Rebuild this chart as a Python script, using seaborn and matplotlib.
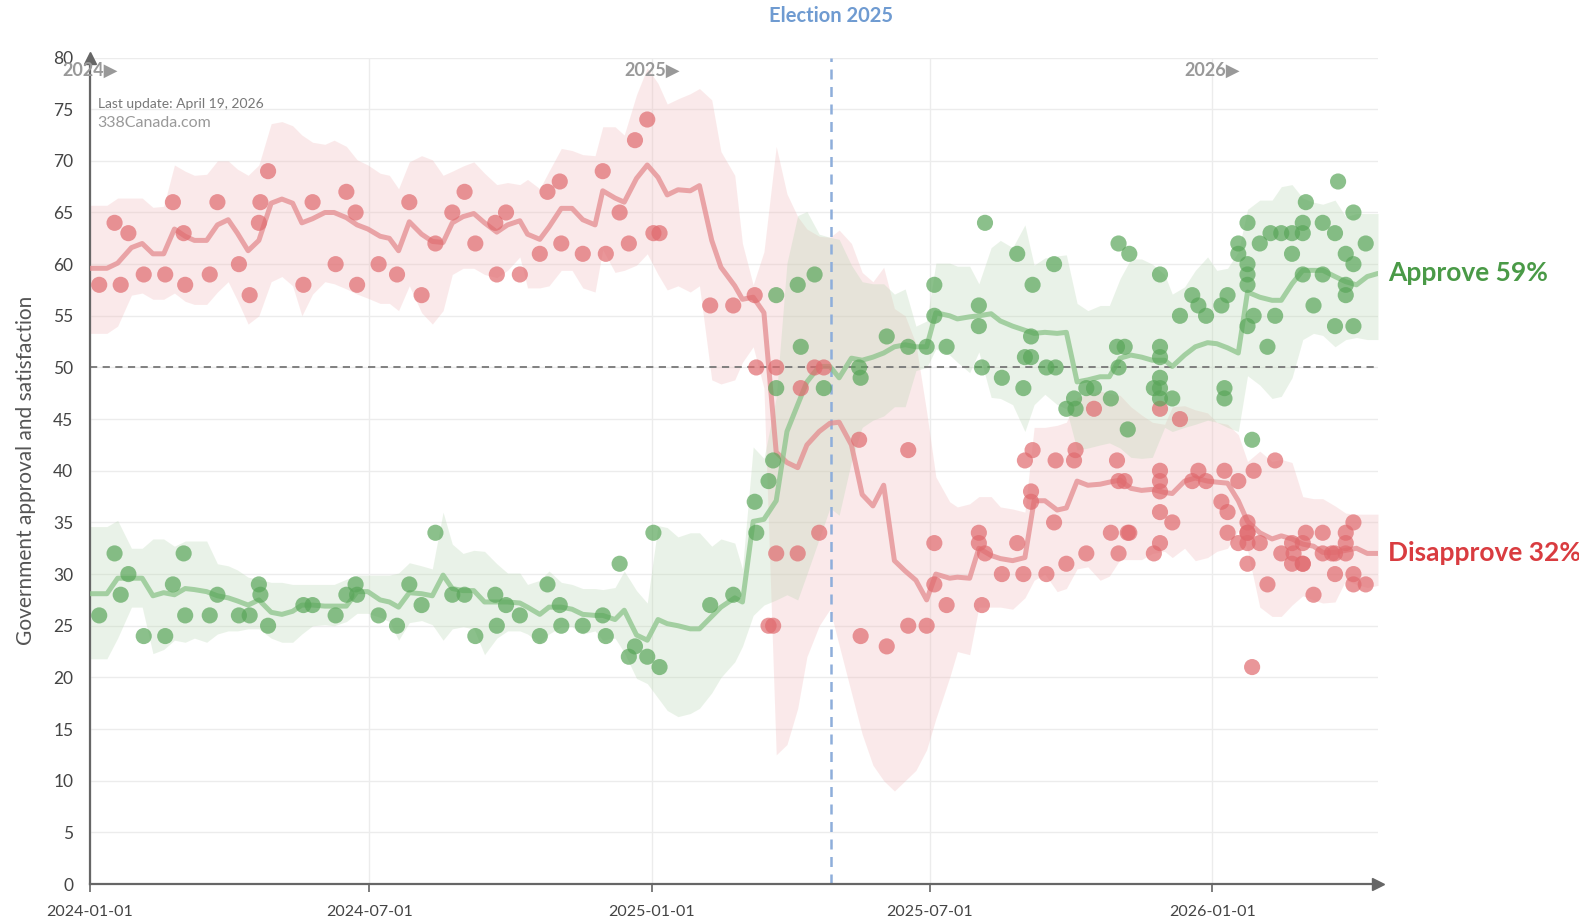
import pandas as pd
import seaborn as sns
import matplotlib.pyplot as plt

# ---- poll results (approve / disapprove) ----
approve_dates = [
    "2024-01-07", "2024-01-17", "2024-01-21", "2024-01-26", "2024-02-05", "2024-02-19", "2024-02-24",
    "2024-03-02", "2024-03-03", "2024-03-19", "2024-03-24", "2024-04-07", "2024-04-14", "2024-04-20",
    "2024-04-21", "2024-04-26", "2024-05-19", "2024-05-25", "2024-06-09", "2024-06-16", "2024-06-22",
    "2024-06-23", "2024-07-07", "2024-07-19", "2024-07-27", "2024-08-04", "2024-08-13", "2024-08-24",
    "2024-09-01", "2024-09-08", "2024-09-21", "2024-09-22", "2024-09-28", "2024-10-07", "2024-10-20",
    "2024-10-25", "2024-11-02", "2024-11-03", "2024-11-17", "2024-11-30", "2024-12-02", "2024-12-11",
    "2024-12-17", "2024-12-21", "2024-12-29", "2025-01-02", "2025-01-06", "2025-02-08", "2025-02-23",
    "2025-03-09", "2025-03-10", "2025-03-18", "2025-03-21", "2025-03-23", "2025-03-23", "2025-04-06",
    "2025-04-08", "2025-04-17", "2025-04-23", "2025-05-16", "2025-05-17", "2025-06-03", "2025-06-17",
    "2025-06-29", "2025-07-04", "2025-07-04", "2025-07-12", "2025-08-02", "2025-08-02", "2025-08-04",
    "2025-08-06", "2025-08-17", "2025-08-27", "2025-08-31", "2025-09-01", "2025-09-05", "2025-09-05",
    "2025-09-06", "2025-09-15", "2025-09-20", "2025-09-21", "2025-09-28", "2025-10-03", "2025-10-04",
    "2025-10-11", "2025-10-16", "2025-10-27", "2025-10-31", "2025-11-01", "2025-11-01", "2025-11-05",
    "2025-11-07", "2025-11-08", "2025-11-24", "2025-11-28", "2025-11-28", "2025-11-28", "2025-11-28",
    "2025-11-28", "2025-11-28", "2025-12-06", "2025-12-11", "2025-12-19", "2025-12-23", "2025-12-28",
    "2026-01-07", "2026-01-09", "2026-01-09", "2026-01-11", "2026-01-18", "2026-01-18", "2026-01-24",
    "2026-01-24", "2026-01-24", "2026-01-24", "2026-01-24", "2026-01-27", "2026-01-28", "2026-02-01",
    "2026-02-06", "2026-02-08", "2026-02-11", "2026-02-15", "2026-02-22", "2026-02-22", "2026-03-01",
    "2026-03-01", "2026-03-01", "2026-03-03", "2026-03-08", "2026-03-14", "2026-03-14", "2026-03-22",
    "2026-03-22", "2026-03-24", "2026-03-29", "2026-03-29", "2026-03-29", "2026-04-03", "2026-04-03",
    "2026-04-03", "2026-04-11",
]
approve_values = [
    26, 32, 28, 30, 24, 24, 29, 32, 26, 26, 28, 26, 26, 29, 28, 25, 27, 27, 26, 28, 29,
    28, 26, 25, 29, 27, 34, 28, 28, 24, 28, 25, 27, 26, 24, 29, 27, 25, 25, 26, 24, 31,
    22, 23, 22, 34, 21, 27, 28, 37, 34, 39, 41, 48, 57, 58, 52, 59, 48, 50, 49, 53, 52,
    52, 55, 58, 52, 54, 56, 50, 64, 49, 61, 48, 51, 53, 51, 58, 50, 60, 50, 46, 47, 46,
    48, 48, 47, 52, 62, 50, 52, 44, 61, 48, 59, 52, 51, 49, 48, 47, 47, 55, 57, 56, 55,
    56, 48, 47, 57, 62, 61, 64, 60, 59, 58, 54, 43, 55, 62, 52, 63, 55, 63, 61, 63, 63,
    64, 59, 66, 56, 64, 59, 63, 54, 68, 61, 58, 57, 65, 60, 54, 62,
]

disapprove_dates = [
    "2024-01-07", "2024-01-17", "2024-01-21", "2024-01-26", "2024-02-05", "2024-02-19", "2024-02-24",
    "2024-03-02", "2024-03-03", "2024-03-19", "2024-03-24", "2024-04-07", "2024-04-14", "2024-04-20",
    "2024-04-21", "2024-04-26", "2024-05-19", "2024-05-25", "2024-06-09", "2024-06-16", "2024-06-22",
    "2024-06-23", "2024-07-07", "2024-07-19", "2024-07-27", "2024-08-04", "2024-08-13", "2024-08-24",
    "2024-09-01", "2024-09-08", "2024-09-21", "2024-09-22", "2024-09-28", "2024-10-07", "2024-10-20",
    "2024-10-25", "2024-11-02", "2024-11-03", "2024-11-17", "2024-11-30", "2024-12-02", "2024-12-11",
    "2024-12-17", "2024-12-21", "2024-12-29", "2025-01-02", "2025-01-06", "2025-02-08", "2025-02-23",
    "2025-03-09", "2025-03-10", "2025-03-18", "2025-03-21", "2025-03-23", "2025-03-23", "2025-04-06",
    "2025-04-08", "2025-04-17", "2025-04-20", "2025-04-23", "2025-05-16", "2025-05-17", "2025-06-03",
    "2025-06-17", "2025-06-17", "2025-06-29", "2025-07-04", "2025-07-04", "2025-07-12", "2025-08-02",
    "2025-08-02", "2025-08-04", "2025-08-06", "2025-08-17", "2025-08-27", "2025-08-31", "2025-09-01",
    "2025-09-05", "2025-09-05", "2025-09-06", "2025-09-15", "2025-09-20", "2025-09-21", "2025-09-28",
    "2025-10-03", "2025-10-04", "2025-10-11", "2025-10-16", "2025-10-27", "2025-10-31", "2025-11-01",
    "2025-11-01", "2025-11-05", "2025-11-07", "2025-11-08", "2025-11-24", "2025-11-28", "2025-11-28",
    "2025-11-28", "2025-11-28", "2025-11-28", "2025-11-28", "2025-12-06", "2025-12-11", "2025-12-19",
    "2025-12-23", "2025-12-28", "2026-01-07", "2026-01-09", "2026-01-11", "2026-01-11", "2026-01-18",
    "2026-01-18", "2026-01-24", "2026-01-24", "2026-01-24", "2026-01-24", "2026-01-24", "2026-01-27",
    "2026-01-28", "2026-02-01", "2026-02-06", "2026-02-11", "2026-02-15", "2026-02-23", "2026-02-22",
    "2026-02-22", "2026-03-01", "2026-03-01", "2026-03-01", "2026-03-03", "2026-03-08", "2026-03-14",
    "2026-03-14", "2026-03-20", "2026-03-22", "2026-03-22", "2026-03-29", "2026-03-29", "2026-03-29",
    "2026-04-03", "2026-04-03", "2026-04-03", "2026-04-11",
]
disapprove_values = [
    58, 64, 58, 63, 59, 59, 66, 63, 58, 59, 66, 60, 57, 64, 66, 69, 58, 66, 60, 67, 65,
    58, 60, 59, 66, 57, 62, 65, 67, 62, 64, 59, 65, 59, 61, 67, 68, 62, 61, 69, 61, 65,
    62, 72, 74, 63, 63, 56, 56, 57, 50, 25, 25, 32, 50, 32, 48, 50, 34, 50, 43, 24, 23,
    42, 25, 25, 29, 33, 27, 34, 33, 27, 32, 30, 33, 30, 41, 37, 38, 42, 30, 35, 41, 31,
    41, 42, 32, 46, 34, 41, 32, 39, 39, 34, 34, 32, 46, 40, 39, 38, 36, 33, 35, 45, 39,
    40, 39, 37, 40, 36, 34, 39, 33, 35, 34, 34, 33, 31, 21, 40, 33, 29, 41, 32, 32, 31,
    33, 33, 31, 31, 34, 28, 32, 34, 32, 30, 32, 34, 33, 32, 35, 30, 29, 29,
]

# ---- weekly trend and spread ----
trend_dates = [
    "2024-01-01", "2024-01-12", "2024-01-19", "2024-01-28", "2024-02-04", "2024-02-11", "2024-02-18",
    "2024-02-25", "2024-03-03", "2024-03-09", "2024-03-17", "2024-03-24", "2024-03-31", "2024-04-06",
    "2024-04-13", "2024-04-20", "2024-04-28", "2024-05-05", "2024-05-12", "2024-05-18", "2024-05-25",
    "2024-06-02", "2024-06-08", "2024-06-16", "2024-06-23", "2024-06-30", "2024-07-08", "2024-07-14",
    "2024-07-20", "2024-07-27", "2024-08-04", "2024-08-11", "2024-08-18", "2024-08-24", "2024-08-31",
    "2024-09-07", "2024-09-14", "2024-09-22", "2024-09-29", "2024-10-07", "2024-10-12", "2024-10-20",
    "2024-10-26", "2024-11-03", "2024-11-10", "2024-11-17", "2024-11-25", "2024-11-30", "2024-12-08",
    "2024-12-14", "2024-12-22", "2024-12-29", "2025-01-05", "2025-01-11", "2025-01-18", "2025-01-26",
    "2025-02-01", "2025-02-09", "2025-02-15", "2025-02-24", "2025-03-01", "2025-03-08", "2025-03-15",
    "2025-03-23", "2025-03-30", "2025-04-06", "2025-04-12", "2025-04-20", "2025-04-27", "2025-05-03",
    "2025-05-11", "2025-05-18", "2025-05-25", "2025-06-01", "2025-06-08", "2025-06-15", "2025-06-22",
    "2025-06-29", "2025-07-05", "2025-07-14", "2025-07-19", "2025-07-27", "2025-08-02", "2025-08-10",
    "2025-08-16", "2025-08-24", "2025-09-01", "2025-09-07", "2025-09-14", "2025-09-22", "2025-09-28",
    "2025-10-05", "2025-10-12", "2025-10-20", "2025-10-26", "2025-11-02", "2025-11-09", "2025-11-16",
    "2025-11-23", "2025-12-01", "2025-12-06", "2025-12-14", "2025-12-21", "2025-12-29", "2026-01-04",
    "2026-01-11", "2026-01-18", "2026-01-24", "2026-02-01", "2026-02-09", "2026-02-15", "2026-02-22",
    "2026-03-01", "2026-03-08", "2026-03-14", "2026-03-22", "2026-03-29", "2026-04-05", "2026-04-12",
    "2026-04-19",
]
disapprove_trend = [
    59.6, 59.6, 60.1, 61.6, 62.0, 61.0, 61.0, 63.4, 62.7, 62.3, 62.3, 63.8, 64.3, 63.0, 61.3, 62.3,
    65.9, 66.3, 65.9, 64.0, 64.4, 65.0, 65.0, 64.5, 63.8, 63.4, 62.7, 62.5, 61.3, 64.1, 62.9, 62.2,
    62.1, 64.0, 64.6, 64.9, 64.0, 63.1, 63.8, 64.2, 62.9, 62.4, 63.6, 65.4, 65.4, 64.3, 63.8, 67.1,
    66.4, 66.0, 68.3, 69.6, 68.4, 66.7, 67.2, 67.1, 67.6, 62.3, 59.7, 57.9, 56.6, 56.8, 55.3, 41.8,
    40.8, 40.3, 42.5, 43.8, 44.6, 44.7, 42.5, 37.7, 36.6, 38.6, 31.3, 30.3, 29.4, 27.5, 30.0, 29.6,
    29.7, 29.6, 32.5, 31.8, 31.5, 31.3, 31.6, 37.1, 37.1, 36.2, 36.4, 39.0, 38.6, 38.7, 38.9, 39.1,
    38.3, 38.1, 38.2, 37.9, 37.8, 39.0, 39.3, 39.0, 38.9, 38.8, 37.1, 35.1, 34.0, 33.4, 33.7, 33.4,
    32.9, 32.7, 32.1, 32.1, 32.3, 32.5, 32.0, 32.0,
]
disapprove_high = [
    65.7, 65.7, 66.4, 66.4, 66.4, 65.5, 65.6, 69.6, 69.0, 68.6, 68.7, 70.0, 70.0, 69.2, 68.6, 69.6,
    73.6, 73.8, 73.4, 72.5, 71.8, 71.6, 72.0, 71.4, 70.1, 69.6, 68.8, 68.6, 67.3, 69.9, 70.5, 70.1,
    68.6, 69.0, 69.5, 69.9, 68.8, 67.7, 67.9, 67.7, 68.2, 67.3, 69.0, 71.2, 71.0, 70.6, 70.5, 73.3,
    73.3, 72.5, 76.4, 79.0, 77.5, 75.5, 76.0, 76.5, 77.0, 75.9, 70.9, 68.6, 62.0, 58.0, 61.2, 71.4,
    66.8, 64.6, 63.4, 62.7, 62.6, 63.3, 62.0, 59.2, 58.3, 59.7, 55.7, 55.0, 52.3, 45.7, 39.4, 37.0,
    36.5, 36.8, 37.5, 37.5, 36.5, 36.3, 36.0, 44.2, 44.2, 44.4, 44.7, 47.1, 47.4, 47.7, 47.5, 47.3,
    46.2, 45.4, 44.7, 44.5, 46.2, 46.3, 45.9, 45.6, 44.7, 44.5, 43.5, 40.9, 41.9, 40.9, 41.1, 40.8,
    37.5, 37.3, 37.3, 36.6, 35.9, 35.8, 35.8, 35.8,
]
disapprove_low = [
    53.3, 53.3, 54.0, 57.0, 57.2, 56.6, 56.6, 57.2, 56.4, 56.1, 56.1, 57.3, 58.3, 56.5, 54.2, 55.0,
    58.3, 58.8, 57.9, 55.0, 57.1, 58.3, 58.1, 57.6, 57.1, 56.7, 56.2, 56.2, 55.5, 57.9, 55.3, 54.2,
    55.5, 59.0, 59.6, 59.6, 59.0, 58.7, 59.4, 60.7, 57.7, 57.7, 57.9, 59.4, 59.4, 57.7, 57.3, 61.4,
    59.2, 59.4, 59.9, 61.0, 59.0, 57.5, 57.9, 57.3, 57.9, 48.8, 48.4, 48.8, 50.5, 52.0, 48.0, 12.5,
    13.5, 17.0, 22.0, 25.0, 26.6, 23.1, 18.5, 14.5, 11.5, 10.0, 9.0, 10.0, 11.0, 13.0, 16.0, 20.0,
    22.5, 22.2, 26.8, 26.8, 26.8, 26.6, 27.7, 29.4, 30.0, 28.3, 28.6, 30.5, 30.7, 29.4, 29.8, 31.4,
    31.4, 31.4, 32.0, 32.2, 31.6, 32.5, 31.3, 31.6, 32.2, 32.5, 34.2, 32.3, 26.8, 25.9, 25.9, 27.0,
    27.9, 27.5, 27.2, 27.3, 29.4, 29.0, 28.7, 28.9,
]
approve_trend = [
    28.1, 28.1, 29.6, 29.6, 29.6, 27.9, 28.2, 28.0, 28.6, 28.5, 28.3, 27.9, 27.7, 27.4, 27.0, 27.5,
    26.3, 26.1, 26.4, 27.0, 27.0, 26.9, 26.9, 26.9, 28.3, 28.3, 27.5, 27.3, 26.8, 28.2, 28.1, 27.9,
    29.9, 28.6, 28.4, 28.4, 27.3, 27.3, 27.3, 27.2, 26.8, 26.1, 26.8, 26.8, 26.6, 26.1, 26.0, 26.0,
    25.6, 26.5, 24.1, 23.6, 25.6, 25.2, 25.0, 24.7, 24.7, 25.9, 26.8, 27.7, 27.3, 35.1, 35.3, 37.1,
    43.8, 46.4, 48.6, 50.1, 50.1, 49.0, 50.9, 50.7, 51.0, 51.4, 52.0, 52.2, 52.0, 52.0, 55.3, 55.0,
    54.7, 54.9, 55.0, 55.2, 54.5, 54.0, 53.6, 53.3, 53.4, 53.3, 53.4, 48.6, 48.8, 49.1, 49.1, 50.9,
    51.2, 51.0, 50.7, 50.7, 50.1, 51.2, 52.0, 52.4, 52.3, 51.9, 51.4, 57.3, 56.8, 56.5, 56.5, 58.1,
    59.4, 59.4, 59.4, 58.8, 58.3, 58.0, 58.8, 59.1,
]
approve_high = [
    34.6, 34.6, 35.2, 32.5, 32.5, 33.4, 33.4, 32.7, 33.2, 33.2, 33.2, 31.0, 30.8, 30.4, 29.7, 29.5,
    29.2, 29.2, 29.0, 29.0, 29.0, 29.0, 29.0, 29.5, 29.9, 29.9, 29.9, 29.9, 30.1, 31.1, 30.8, 30.5,
    36.0, 32.9, 32.0, 32.3, 32.2, 31.0, 30.1, 30.1, 29.0, 29.4, 30.3, 29.2, 29.0, 28.6, 28.6, 28.5,
    28.7, 30.3, 28.4, 27.2, 34.7, 34.5, 33.6, 34.0, 34.0, 32.7, 33.4, 33.0, 30.5, 42.3, 41.2, 47.1,
    60.1, 64.7, 65.1, 62.9, 62.6, 62.4, 59.9, 58.3, 58.1, 58.1, 57.1, 57.6, 54.0, 54.5, 60.1, 60.1,
    59.8, 59.8, 58.1, 61.6, 62.3, 61.6, 63.8, 59.9, 60.6, 60.8, 60.9, 56.2, 55.5, 56.0, 56.0, 58.6,
    60.5, 60.5, 60.0, 59.0, 57.1, 57.8, 59.4, 60.7, 59.4, 59.6, 61.2, 65.3, 66.2, 66.2, 67.5, 67.7,
    66.4, 66.0, 65.8, 66.2, 64.6, 64.9, 64.9, 64.9,
]
approve_low = [
    21.8, 21.8, 23.8, 26.8, 26.8, 22.3, 22.7, 23.6, 23.4, 23.8, 23.4, 24.2, 24.5, 24.5, 24.7, 24.7,
    23.8, 23.4, 23.4, 24.2, 25.0, 25.1, 25.0, 25.4, 26.2, 26.2, 25.8, 25.4, 23.6, 25.3, 25.5, 25.1,
    23.6, 24.7, 24.9, 24.7, 22.2, 23.8, 24.5, 24.5, 24.2, 23.3, 24.2, 24.9, 24.9, 24.2, 24.5, 23.6,
    23.8, 22.4, 19.9, 19.4, 18.0, 16.8, 16.2, 16.5, 17.0, 18.5, 20.0, 21.5, 23.0, 26.0, 27.0, 27.5,
    28.0, 27.5, 30.0, 33.4, 36.4, 35.7, 40.9, 44.2, 44.9, 45.3, 46.2, 46.2, 49.7, 50.0, 51.8, 51.2,
    50.5, 49.5, 51.5, 47.1, 47.0, 46.4, 43.8, 46.4, 47.4, 46.4, 46.0, 42.0, 42.2, 42.5, 42.7, 42.2,
    41.3, 41.2, 41.3, 44.2, 43.8, 44.2, 44.5, 44.9, 44.7, 44.2, 43.8, 49.2, 48.3, 47.0, 47.2, 49.0,
    52.7, 53.3, 53.1, 52.0, 52.7, 52.9, 52.7, 52.7,
]

year_labels = ["2024", "2025", "2026"]
x_ticks = ["2024-01-01", "2024-07-01", "2025-01-01", "2025-07-01", "2026-01-01"]
election_date = "2025-04-28"

GREEN = "#5aa65a"
RED = "#e06a6e"

approve = pd.DataFrame({"date": pd.to_datetime(approve_dates), "value": approve_values})
disapprove = pd.DataFrame({"date": pd.to_datetime(disapprove_dates), "value": disapprove_values})
trend = pd.DataFrame({
    "date": pd.to_datetime(trend_dates),
    "approve": approve_trend, "approve_hi": approve_high, "approve_lo": approve_low,
    "disapprove": disapprove_trend, "disapprove_hi": disapprove_high, "disapprove_lo": disapprove_low,
})

sns.set_theme(style="white")
plt.rcParams["font.family"] = ["Lato", "DejaVu Sans"]

fig = plt.figure(figsize=(15.79, 9.22), dpi=100)
ax = fig.add_axes([0.057, 0.0412, 0.8157, 0.8964])

# spread bands
ax.fill_between(trend["date"], trend["disapprove_lo"], trend["disapprove_hi"],
                color="#f0b3b5", alpha=0.28, lw=0, zorder=1)
ax.fill_between(trend["date"], trend["approve_lo"], trend["approve_hi"],
                color="#b9d7b3", alpha=0.30, lw=0, zorder=1)

# trend lines
sns.lineplot(data=trend, x="date", y="disapprove", ax=ax, color="#e48c8f", lw=3.6, alpha=0.75, zorder=3)
sns.lineplot(data=trend, x="date", y="approve", ax=ax, color="#8cc48a", lw=3.6, alpha=0.75, zorder=3)

# polls
sns.scatterplot(data=disapprove, x="date", y="value", ax=ax, color=RED, s=135, alpha=0.7,
                edgecolor="none", zorder=4)
sns.scatterplot(data=approve, x="date", y="value", ax=ax, color=GREEN, s=135, alpha=0.7,
                edgecolor="none", zorder=4)

ax.axhline(50, color="#777777", ls=(0, (4, 3)), lw=1.3, zorder=2)
elec = pd.Timestamp(election_date)
ax.axvline(elec, color="#8eaedb", ls=(0, (4, 3)), lw=1.8, zorder=2)
ax.text(elec, 1.05, "Election 2025", transform=ax.get_xaxis_transform(), ha="center", va="center",
        fontsize=14.5, fontweight="bold", color="#6f9bd1")

ax.set_xlim(pd.Timestamp("2024-01-01"), pd.Timestamp("2026-04-19"))
ax.set_ylim(0, 80)
ax.set_yticks(range(0, 81, 5))
ax.set_xticks(pd.to_datetime(x_ticks))
ax.set_xticklabels(x_ticks)
ax.grid(True, color="#ececec", lw=1)
ax.set_axisbelow(True)
ax.tick_params(axis="x", length=6, width=1.2, color="#666666", direction="out", bottom=True,
               labelsize=11.5, labelcolor="#444444", pad=9)
ax.tick_params(axis="y", length=0, labelsize=12.5, labelcolor="#444444", pad=12)
for side in ["top", "right"]:
    ax.spines[side].set_visible(False)
for side in ["left", "bottom"]:
    ax.spines[side].set_color("#666666")
    ax.spines[side].set_linewidth(1.6)
ax.plot(1, 0, ">", color="#666666", ms=9, transform=ax.transAxes, clip_on=False)
ax.plot(0, 1, "^", color="#666666", ms=9, transform=ax.transAxes, clip_on=False)

ax.set_xlabel("")
ax.set_ylabel("Government approval and satisfaction", fontsize=15, color="#555555", labelpad=12)

# year markers
for yr in year_labels:
    ax.text(pd.Timestamp(f"{yr}-01-01"), 78.8, f"{yr}\u25B6", ha="center", va="center",
            fontsize=13, fontweight="bold", color="#999999", zorder=5)

ax.text(0.006, 0.944, "Last update: April 19, 2026", transform=ax.transAxes, fontsize=10,
        color="#777777", va="center")
ax.text(0.006, 0.921, "338Canada.com", transform=ax.transAxes, fontsize=11.5,
        color="#999999", va="center")

ax.text(1.008, approve_trend[-1], f"Approve {round(approve_trend[-1])}%", transform=ax.get_yaxis_transform(),
        fontsize=19, fontweight="bold", color="#4a9a47", va="center", ha="left")
ax.text(1.008, disapprove_trend[-1], f"Disapprove {round(disapprove_trend[-1])}%",
        transform=ax.get_yaxis_transform(), fontsize=19, fontweight="bold", color="#d93c40",
        va="center", ha="left")

fig.savefig("out.png", dpi=100)
